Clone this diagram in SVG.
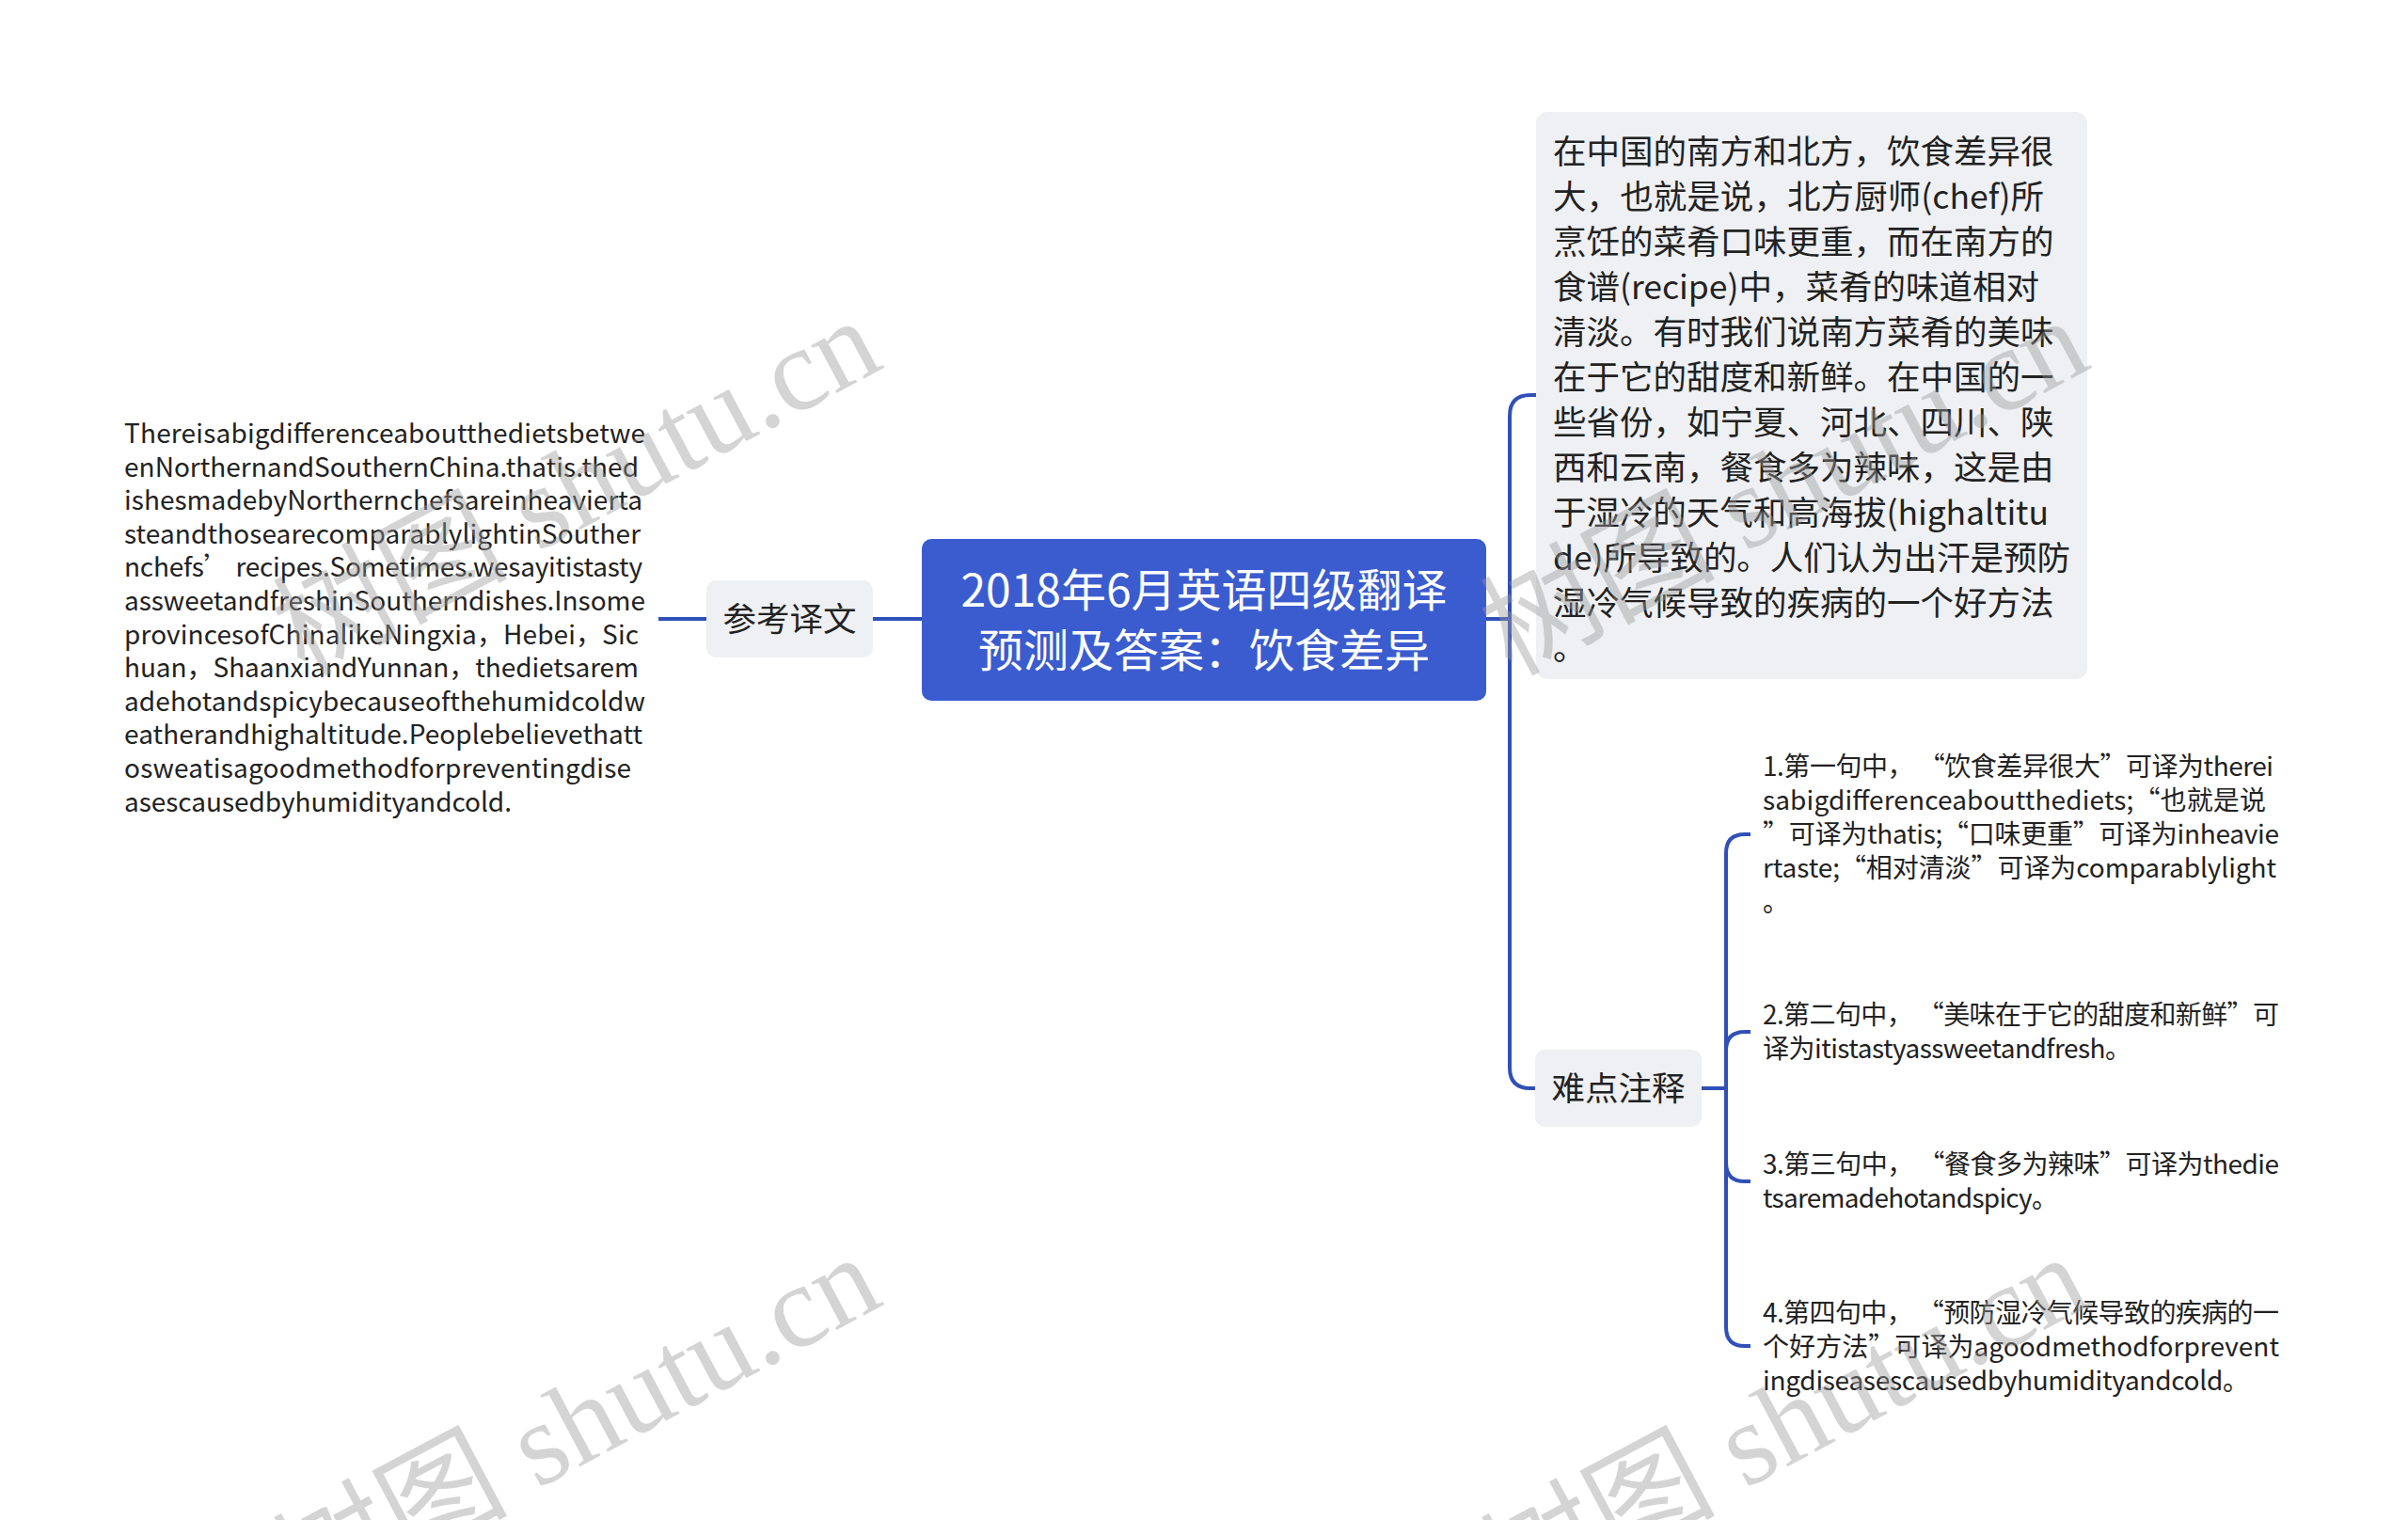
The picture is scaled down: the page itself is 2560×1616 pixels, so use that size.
<svg xmlns="http://www.w3.org/2000/svg" width="2560" height="1616" viewBox="0 0 2560 1616">
<style>
.t{font-family:"Noto Sans CJK SC","Noto Sans",sans-serif;fill:#222}
.title{font-family:"Noto Sans CJK SC","Noto Sans",sans-serif;fill:#fff;font-size:48px}
.lbl{font-size:35.5px}
.big{font-size:35.5px}
.sm{font-size:28px}
.box{fill:#eef0f3}
.conn{fill:none;stroke:#3050b8;stroke-width:4;stroke-linecap:butt}
.wm{font-family:"Liberation Serif","Noto Sans CJK SC",serif;font-size:125px;fill:#9a9a9a;opacity:0.42}
</style>
<rect width="2560" height="1616" fill="#fff"/>
<g id="connectors">
<path class="conn" d="M980,658 H928"/>
<path class="conn" d="M751,658 H700"/>
<path class="conn" d="M1580,658 H1605"/>
<path class="conn" d="M1633,420 H1627 Q1605,420 1605,442 V1135 Q1605,1157 1627,1157 H1632"/>
<path class="conn" d="M1809,1157 H1835"/>
<path class="conn" d="M1861,887 H1855 Q1835,887 1835,907 V1411 Q1835,1431 1855,1431 H1861"/>
<path class="conn" d="M1861,1097 H1855 Q1835,1097 1835,1117"/>
<path class="conn" d="M1861,1256 H1855 Q1835,1256 1835,1236"/>
</g>
<g id="root">
<rect x="980" y="573" width="600" height="172" rx="10" fill="#3b5ccf"/>
<text class="title" x="1280" y="645" text-anchor="middle">2018年6月英语四级翻译</text>
<text class="title" x="1280" y="709" text-anchor="middle">预测及答案：饮食差异</text>
</g>
<g id="ref-label">
<rect class="box" x="751" y="617" width="177" height="82" rx="10"/>
<text class="t lbl" x="839.5" y="671" text-anchor="middle">参考译文</text>
</g>
<g id="ref-text" class="t sm">
<text x="132" y="471" textLength="554" lengthAdjust="spacing">Thereisabigdifferenceaboutthedietsbetwe</text>
<text x="132" y="506.6" textLength="547" lengthAdjust="spacing">enNorthernandSouthernChina.thatis.thed</text>
<text x="132" y="542.2" textLength="551" lengthAdjust="spacing">ishesmadebyNorthernchefsareinheavierta</text>
<text x="132" y="577.8" textLength="549" lengthAdjust="spacing">steandthosearecomparablylightinSouther</text>
<text x="132" y="613.4" textLength="551" lengthAdjust="spacing">nchefs’ recipes.Sometimes.wesayitistasty</text>
<text x="132" y="649" textLength="554" lengthAdjust="spacing">assweetandfreshinSoutherndishes.Insome</text>
<text x="132" y="684.6" textLength="547" lengthAdjust="spacing">provincesofChinalikeNingxia，Hebei，Sic</text>
<text x="132" y="720.2" textLength="547" lengthAdjust="spacing">huan，ShaanxiandYunnan，thedietsarem</text>
<text x="132" y="755.8" textLength="554" lengthAdjust="spacing">adehotandspicybecauseofthehumidcoldw</text>
<text x="132" y="791.4" textLength="551" lengthAdjust="spacing">eatherandhighaltitude.Peoplebelievethatt</text>
<text x="132" y="827" textLength="539" lengthAdjust="spacing">osweatisagoodmethodforpreventingdise</text>
<text x="132" y="862.6" textLength="412" lengthAdjust="spacing">asescausedbyhumidityandcold.</text>
</g>
<g id="cn-text">
<rect class="box" x="1633" y="119" width="586" height="603" rx="12"/>
<g class="t big">
<text x="1651" y="174">在中国的南方和北方，饮食差异很</text>
<text x="1651" y="222" textLength="522" lengthAdjust="spacing">大，也就是说，北方厨师(chef)所</text>
<text x="1651" y="270">烹饪的菜肴口味更重，而在南方的</text>
<text x="1651" y="318" textLength="517" lengthAdjust="spacing">食谱(recipe)中，菜肴的味道相对</text>
<text x="1651" y="366">清淡。有时我们说南方菜肴的美味</text>
<text x="1651" y="414">在于它的甜度和新鲜。在中国的一</text>
<text x="1651" y="462">些省份，如宁夏、河北、四川、陕</text>
<text x="1651" y="510">西和云南，餐食多为辣味，这是由</text>
<text x="1651" y="558" textLength="527" lengthAdjust="spacing">于湿冷的天气和高海拔(highaltitu</text>
<text x="1651" y="606" textLength="550" lengthAdjust="spacing">de)所导致的。人们认为出汗是预防</text>
<text x="1651" y="654">湿冷气候导致的疾病的一个好方法</text>
<text x="1651" y="702">。</text>
</g>
</g>
<g id="notes-label">
<rect class="box" x="1632" y="1116" width="177" height="82" rx="10"/>
<text class="t lbl" x="1720.5" y="1170" text-anchor="middle">难点注释</text>
</g>
<g id="note-1" class="t sm">
<text x="1874" y="825" textLength="543" lengthAdjust="spacing">1.第一句中，  “饮食差异很大”可译为therei</text>
<text x="1874" y="861" textLength="535" lengthAdjust="spacing">sabigdifferenceaboutthediets;“也就是说</text>
<text x="1874" y="897" textLength="549" lengthAdjust="spacing">”可译为thatis;“口味更重”可译为inheavie</text>
<text x="1874" y="933" textLength="546" lengthAdjust="spacing">rtaste;“相对清淡”可译为comparablylight</text>
<text x="1874" y="969">。</text>
</g>
<g id="note-2" class="t sm">
<text x="1874" y="1089" textLength="549" lengthAdjust="spacing">2.第二句中，  “美味在于它的甜度和新鲜”可</text>
<text x="1874" y="1125" textLength="392" lengthAdjust="spacing">译为itistastyassweetandfresh。</text>
</g>
<g id="note-3" class="t sm">
<text x="1874" y="1248" textLength="549" lengthAdjust="spacing">3.第三句中，  “餐食多为辣味”可译为thedie</text>
<text x="1874" y="1284" textLength="314" lengthAdjust="spacing">tsaremadehotandspicy。</text>
</g>
<g id="note-4" class="t sm">
<text x="1874" y="1406" textLength="549" lengthAdjust="spacing">4.第四句中，  “预防湿冷气候导致的疾病的一</text>
<text x="1874" y="1442" textLength="549" lengthAdjust="spacing">个好方法”可译为agoodmethodforprevent</text>
<text x="1874" y="1478" textLength="517" lengthAdjust="spacing">ingdiseasescausedbyhumidityandcold。</text>
</g>
<g id="watermark">
<text class="wm" text-anchor="end" transform="translate(942,390) rotate(-28)">树图 shutu.cn</text>
<text class="wm" text-anchor="end" transform="translate(942,1386) rotate(-28)">树图 shutu.cn</text>
<text class="wm" text-anchor="end" transform="translate(2226,390) rotate(-28)">树图 shutu.cn</text>
<text class="wm" text-anchor="end" transform="translate(2226,1386) rotate(-28)">树图 shutu.cn</text>
</g>
</svg>
